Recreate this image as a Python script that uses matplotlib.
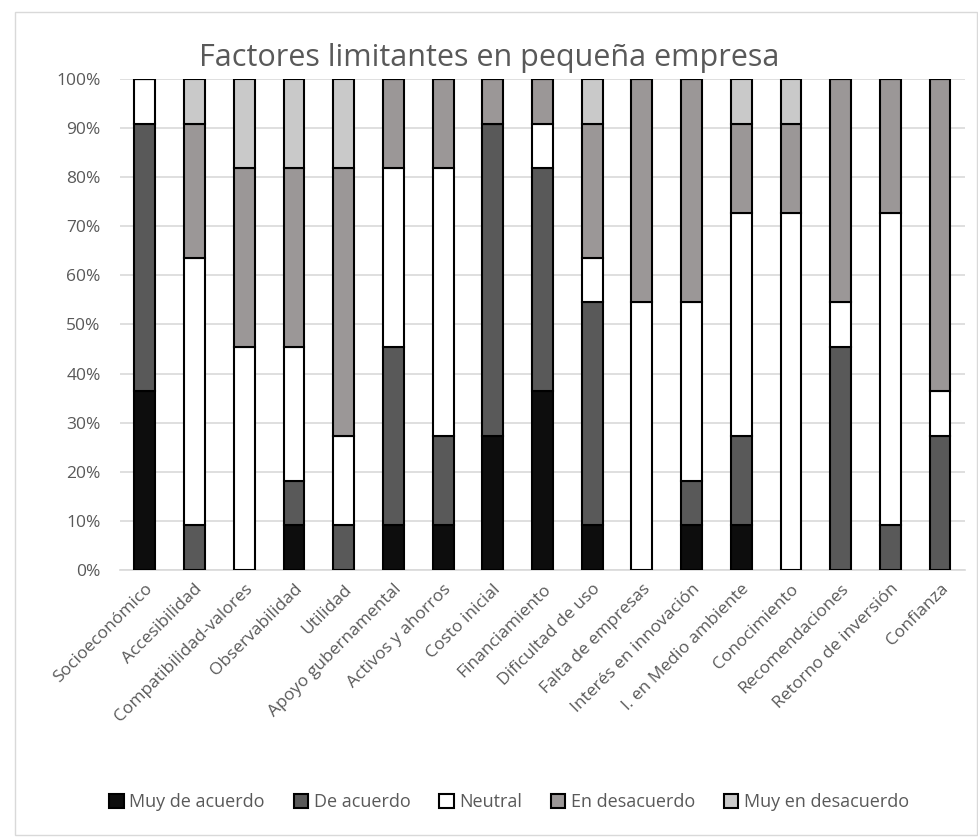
import numpy as np
import matplotlib.pyplot as plt
from matplotlib.patches import Rectangle

categories = ['Socioeconómico', 'Accesibilidad', 'Compatibilidad-valores', 'Observabilidad',
              'Utilidad', 'Apoyo gubernamental', 'Activos y ahorros', 'Costo inicial',
              'Financiamiento', 'Dificultad de uso', 'Falta de empresas', 'Interés en innovación',
              'I. en Medio ambiente', 'Conocimiento', 'Recomendaciones', 'Retorno de inversión',
              'Confianza']

# shares in % (steps of 1/11)
muy_de_acuerdo = [36.4, 0, 0, 9.1, 0, 9.1, 9.1, 27.3, 36.4, 9.1, 0, 9.1, 9.1, 0, 0, 0, 0]
de_acuerdo = [54.5, 9.1, 0, 9.1, 9.1, 36.4, 18.2, 63.6, 45.5, 45.5, 0, 9.1, 18.2, 0, 45.5, 9.1, 27.3]
neutral = [9.1, 54.5, 45.5, 27.3, 18.2, 36.4, 54.5, 0, 9.1, 9.1, 54.5, 36.4, 45.5, 72.7, 9.1, 63.6, 9.1]
en_desacuerdo = [0, 27.3, 36.4, 36.4, 54.5, 18.2, 18.2, 9.1, 9.1, 27.3, 45.5, 45.5, 18.2, 18.2, 45.5, 27.3, 63.6]
muy_en_desacuerdo = [0, 9.1, 18.2, 18.2, 18.2, 0, 0, 0, 0, 9.1, 0, 0, 9.1, 9.1, 0, 0, 0]

series = ['Muy de acuerdo', 'De acuerdo', 'Neutral', 'En desacuerdo', 'Muy en desacuerdo']
colors = ['#0d0d0d', '#595959', '#ffffff', '#9b9797', '#c9c9c9']

plt.rcParams['font.family'] = ['Open Sans', 'DejaVu Sans']

fig = plt.figure(figsize=(9.79, 8.38), dpi=100)
ax = fig.add_axes([0.1226, 0.3198, 0.863, 0.586])

# outer chart border
fig.patches.append(Rectangle((15 / 979, 3 / 838), 962 / 979, 823 / 838, transform=fig.transFigure,
                             fill=False, edgecolor='#d9d9d9', linewidth=1))

x = np.arange(len(categories))
data = np.array([muy_de_acuerdo, de_acuerdo, neutral, en_desacuerdo, muy_en_desacuerdo])
totals = data.sum(axis=0)
data = data / totals * 100
bottom = np.zeros(len(categories))
for vals, name, c in zip(data, series, colors):
    ax.bar(x, vals, 0.42, bottom=bottom, color=c, edgecolor='black', linewidth=1.5,
           label=name, zorder=3)
    bottom += vals

ax.set_xlim(-0.5, len(categories) - 0.5)
ax.set_ylim(0, 100)
ax.set_yticks(np.arange(0, 101, 10))
ax.set_yticklabels([f'{v}%' for v in range(0, 101, 10)])
ax.set_xticks(x)
ax.set_xticklabels(categories, rotation=45, ha='right', rotation_mode='anchor')
ax.tick_params(axis='both', length=0, labelsize=12.5, colors='#595959')
ax.tick_params(axis='y', pad=14)
ax.tick_params(axis='x', pad=8)
ax.grid(axis='y', color='#d9d9d9', linewidth=1.2, zorder=0)
for s in ['top', 'right', 'left']:
    ax.spines[s].set_visible(False)
ax.spines['bottom'].set_color('#d9d9d9')
ax.spines['bottom'].set_linewidth(1.2)

fig.text(0.5, 0.931, 'Factores limitantes en pequeña empresa', ha='center', va='center',
         fontsize=22, color='#595959')

fig.legend(loc='center', bbox_to_anchor=(0.52, 0.043), ncol=5, frameon=False,
           fontsize=13, labelcolor='#595959', handlelength=0.8, handleheight=0.8,
           handletextpad=0.3, columnspacing=1.6)

fig.savefig('out.png', dpi=100)
